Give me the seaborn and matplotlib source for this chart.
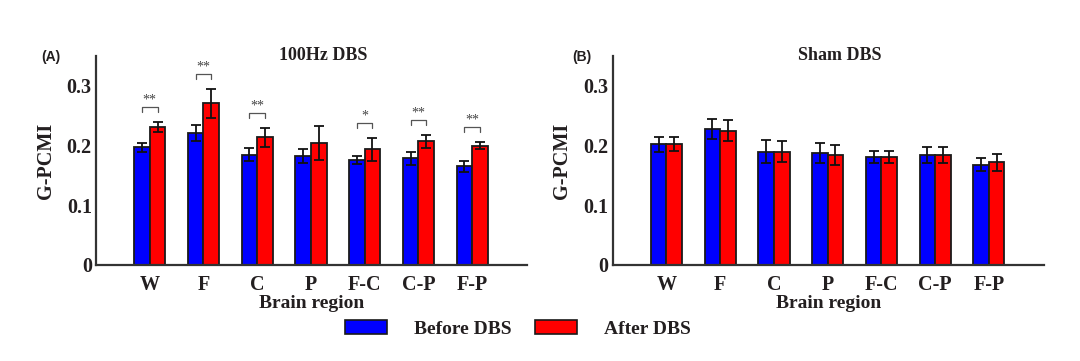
import numpy as np
import pandas as pd
import matplotlib
matplotlib.use("Agg")
import matplotlib.pyplot as plt
import seaborn as sns
from matplotlib.patches import Patch

# ---------------- data ----------------
regions = ["W", "F", "C", "P", "F-C", "C-P", "F-P"]
conditions = ["Before DBS", "After DBS"]

dbs_before = [0.197, 0.221, 0.185, 0.183, 0.176, 0.179, 0.165]
dbs_before_err = [0.008, 0.013, 0.011, 0.012, 0.007, 0.011, 0.009]
dbs_after = [0.231, 0.271, 0.214, 0.204, 0.194, 0.207, 0.200]
dbs_after_err = [0.009, 0.024, 0.016, 0.028, 0.019, 0.011, 0.006]
dbs_sig = ["**", "**", "**", "", "*", "**", "**"]

sham_before = [0.202, 0.228, 0.190, 0.187, 0.181, 0.184, 0.168]
sham_before_err = [0.012, 0.017, 0.019, 0.017, 0.010, 0.014, 0.011]
sham_after = [0.203, 0.225, 0.190, 0.184, 0.181, 0.184, 0.172]
sham_after_err = [0.012, 0.017, 0.017, 0.017, 0.010, 0.014, 0.014]
sham_sig = ["", "", "", "", "", "", ""]

yticks = [0, 0.1, 0.2, 0.3]
ytick_labels = ["0", "0.1", "0.2", "0.3"]
titles = ["100Hz DBS", "Sham DBS"]
panel_labels = ["(A)", "(B)"]

colors = {"Before DBS": "#0000FF", "After DBS": "#FF0000"}
TXT = "#231F20"
SERIF = "Liberation Serif"
SANS = "Liberation Sans"

sns.set_theme(style="white")
plt.rcParams["font.family"] = [SERIF, "DejaVu Serif"]

fig = plt.figure(figsize=(10.8, 3.61), dpi=100)
ax_pos = [[96 / 1080, 96 / 361, 431 / 1080, 209 / 361],
          [612.7 / 1080, 96 / 361, 431 / 1080, 209 / 361]]

panels = [
    (dbs_before, dbs_before_err, dbs_after, dbs_after_err, dbs_sig),
    (sham_before, sham_before_err, sham_after, sham_after_err, sham_sig),
]

for i, (b, be, a, ae, sig) in enumerate(panels):
    ax = fig.add_axes(ax_pos[i])
    df = pd.DataFrame({
        "region": regions * 2,
        "cond": [conditions[0]] * len(regions) + [conditions[1]] * len(regions),
        "val": b + a,
    })
    errs = {conditions[0]: be, conditions[1]: ae}
    sns.barplot(data=df, x="region", y="val", hue="cond", order=regions,
                hue_order=conditions, palette=colors, width=0.58, gap=0,
                saturation=1, errorbar=None, edgecolor="#1a1a1a",
                linewidth=1.3, legend=False, ax=ax)
    centers = {}
    for cont, cond in zip(ax.containers, conditions):
        xs = [p.get_x() + p.get_width() / 2 for p in cont]
        hs = [p.get_height() for p in cont]
        centers[cond] = (xs, hs)
        ax.errorbar(xs, hs, yerr=errs[cond], fmt="none", ecolor="#111111",
                    elinewidth=1.3, capsize=3.5, capthick=1.3, zorder=5)
    # significance brackets
    for j, s in enumerate(sig):
        if not s:
            continue
        xb = centers[conditions[0]][0][j]
        xa = centers[conditions[1]][0][j]
        top = max(b[j] + be[j], a[j] + ae[j]) + 0.025
        ax.plot([xb, xb, xa, xa], [top - 0.009, top, top, top - 0.009],
                color="#555555", lw=0.9, zorder=6)
        ax.text((xb + xa) / 2, top + 0.001, s, ha="center", va="bottom",
                fontsize=10, color="#444444", family=SERIF)

    ax.set_xlim(-1, 7.02)
    ax.set_ylim(0, 0.35)
    ax.set_yticks(yticks)
    ax.set_yticklabels(ytick_labels)
    ax.tick_params(axis="both", length=0, labelsize=14.5, colors=TXT)
    ax.tick_params(axis="y", pad=3)
    ax.tick_params(axis="x", pad=7)
    for lab in ax.get_xticklabels() + ax.get_yticklabels():
        lab.set_fontweight("bold")
        lab.set_family(SERIF)
    for side in ["top", "right"]:
        ax.spines[side].set_visible(False)
    for side in ["left", "bottom"]:
        ax.spines[side].set_color("#333333")
        ax.spines[side].set_linewidth(1.6)
    ax.set_xlabel("Brain region", fontsize=14, fontweight="bold", color=TXT,
                  labelpad=0)
    ax.set_ylabel("G-PCMI", fontsize=14.5, fontweight="bold", color=TXT,
                  labelpad=8)
    ax.text(0.527, 1.0, titles[i], transform=ax.transAxes, ha="center",
            va="center", fontsize=13, fontweight="bold", color=TXT)
    ax.grid(False)

fig.text(51 / 1080, 1 - 57 / 361, panel_labels[0], family=SANS,
         fontweight="bold", fontsize=10, ha="center", va="center", color=TXT)
fig.text(582 / 1080, 1 - 57 / 361, panel_labels[1], family=SANS,
         fontweight="bold", fontsize=10, ha="center", va="center", color=TXT)

handles = [Patch(facecolor=colors[c], edgecolor="#1a1a1a", linewidth=1.2)
           for c in conditions]
leg = fig.legend(handles, conditions, loc="center", ncol=2,
                 bbox_to_anchor=(518 / 1080, 1 - 329 / 361), frameon=False,
                 prop={"family": SERIF, "weight": "bold", "size": 14},
                 handlelength=2.15, handleheight=0.7, handletextpad=1.4,
                 columnspacing=1.2)
for t in leg.get_texts():
    t.set_color(TXT)

fig.savefig("out.png", dpi=100)
